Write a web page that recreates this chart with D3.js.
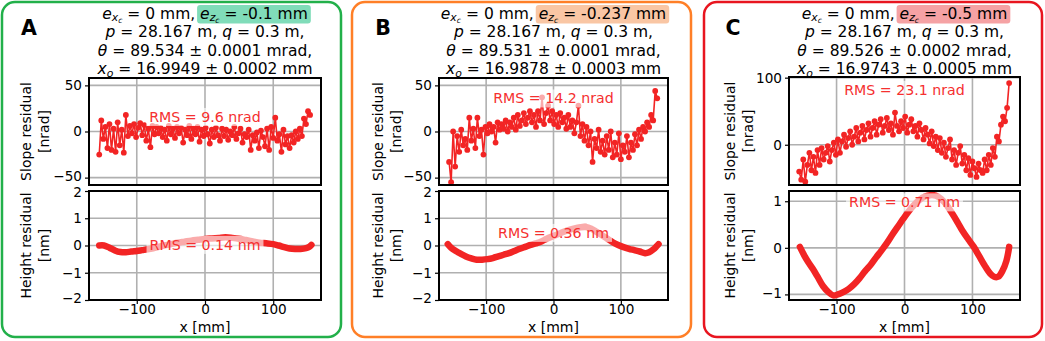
<!DOCTYPE html>
<html><head><meta charset="utf-8">
<script src="https://cdn.jsdelivr.net/npm/d3@7"></script>
<style>body{margin:0;background:#fff} svg{display:block;font-family:"DejaVu Sans",sans-serif}</style>
</head><body><svg id="c" width="1045" height="341"></svg>
<script>
// ---- data ----
const xGrid = [-155,-152,-149,-146,-143,-140,-137,-134,-131,-128,-125,-122,-119,-116,-113,-110,-107,-104,-101,-98,-95,-92,-89,-86,-83,-80,-77,-74,-71,-68,-65,-62,-59,-56,-53,-50,-47,-44,-41,-38,-35,-32,-29,-26,-23,-20,-17,-14,-11,-8,-5,-2,1,4,7,10,13,16,19,22,25,28,31,34,37,40,43,46,49,52,55,58,61,64,67,70,73,76,79,82,85,88,91,94,97,100,103,106,109,112,115,118,121,124,127,130,133,136,139,142,145,148,151,154];
const slopeA = [-25,12,-8,5,-18,8,-20,3,-22,10, -15,2,-23,18,-5,6,-2,8,-6,4, 9,-4,7,-10,3,-17,6,-3,5,-2, 4,-6,2,-10,6,-3,3,-7,5,-2, 4,-12,2,-4,6,-8,3,-3,5,-11, 2,-5,4,-3,-13,2,-6,4,-4,-10, 3,-5,2,-9,0,-4,5,-8,-2,3, -12,-3,-6,2,-20,-4,-10,-1,-18,1, -6,-16,3,-20,5,-7,15,-10,-3,-22, 2,-14,-5,-18,-4,-12,0,-8,3,-5, 14,8,22,18];
const slopeB = [-33,-55,0,-38,-5,-22,2,-15,-8,-20, 15,-10,3,-18,15,-5,2,-25,5,-2, 8,0,5,-12,10,2,8,3,12,0, 10,5,15,2,18,6,12,20,8,15, 22,10,18,5,22,12,37,8,20,28, 12,22,8,18,5,20,10,15,3,18, 5,12,-2,10,28,-5,8,-10,5,-15, 0,-33,-8,-18,2,-22,-10,-25,-5,-20, 0,-28,-12,-25,-2,-30,-15,-22,-5,-28, -12,-20,-3,-15,2,-8,5,0,10,5, 18,12,44,36];
const slopeC = [-40,-52,-22,-55,-30,-12,-38,-18,-42,-8, -30,-5,-22,-12,-2,-25,-8,3,-15,8, -12,5,15,-3,10,20,0,12,25,5, 18,28,8,22,32,12,25,35,15,30, 38,18,28,40,22,32,15,48,28,20, 35,25,42,18,30,38,20,28,12,32, 22,8,25,15,2,20,-2,12,-8,10, -12,3,-18,-5,8,-22,-8,-30,-12,-2, -28,-15,-38,-20,-45,-25,-35,-48,-28,-38, -42,-22,-38,-15,-30,-5,-18,12,5,30, 42,35,55,92];
const heightA = [[-155,0.0],[-148,0.0],[-140,-0.08],[-132,-0.18],[-124,-0.24],[-116,-0.25],[-108,-0.22],[-100,-0.2],[-92,-0.17],[-84,-0.14],[-76,-0.1],[-68,-0.05],[-60,0.0],[-50,0.05],[-40,0.1],[-30,0.14],[-20,0.18],[-10,0.21],[0,0.24],[10,0.26],[20,0.28],[30,0.3],[40,0.28],[50,0.25],[60,0.2],[70,0.15],[80,0.1],[90,0.08],[100,0.05],[108,0.0],[116,-0.06],[124,-0.11],[132,-0.13],[140,-0.13],[148,-0.1],[153,-0.05],[156,0.02]];
const heightB = [[-157,0.05],[-152,-0.08],[-145,-0.2],[-138,-0.3],[-130,-0.4],[-122,-0.47],[-114,-0.52],[-106,-0.52],[-98,-0.5],[-90,-0.46],[-82,-0.4],[-74,-0.34],[-66,-0.28],[-58,-0.2],[-50,-0.12],[-42,-0.05],[-34,0.02],[-26,0.08],[-18,0.15],[-10,0.25],[0,0.35],[10,0.45],[20,0.55],[30,0.62],[40,0.67],[48,0.68],[56,0.62],[64,0.5],[72,0.38],[80,0.25],[88,0.12],[96,0.02],[104,-0.06],[112,-0.12],[120,-0.17],[128,-0.22],[136,-0.28],[142,-0.25],[148,-0.15],[153,-0.03],[156,0.05]];
const heightC = [[-154,0.02],[-148,-0.15],[-142,-0.3],[-135,-0.45],[-128,-0.62],[-120,-0.82],[-112,-0.95],[-105,-1.02],[-98,-1.0],[-90,-0.95],[-82,-0.88],[-74,-0.78],[-66,-0.65],[-58,-0.5],[-50,-0.37],[-42,-0.21],[-34,-0.06],[-26,0.1],[-18,0.28],[-10,0.45],[-2,0.62],[6,0.78],[14,0.92],[22,1.03],[30,1.1],[38,1.13],[46,1.12],[54,1.05],[62,0.92],[70,0.74],[78,0.55],[86,0.35],[94,0.18],[102,0.02],[110,-0.18],[118,-0.38],[126,-0.55],[132,-0.62],[138,-0.62],[144,-0.5],[150,-0.28],[154,0.02]];
const panelLetters = ["A","B","C"];
const ezValues = ["-0.1","-0.237","-0.5"];
const thetaValues = ["89.534 ± 0.0001","89.531 ± 0.0001","89.526 ± 0.0002"];
const xoValues = ["16.9949 ± 0.0002","16.9878 ± 0.0003","16.9743 ± 0.0005"];
const rmsSlope = ["9.6","14.2","23.1"];
const rmsHeight = ["0.14","0.36","0.71"];
const xTicks = [-100,0,100];
const slopeTicks = [[-50,0,50],[-50,0,50],[0,100]];
const heightTicks = [[-2,-1,0,1,2],[-2,-1,0,1,2],[-1,0,1]];
const slopeSeries = [slopeA,slopeB,slopeC];
const heightSeries = [heightA,heightB,heightC];

// ---- layout / style ----
const layout = [
 {box:[2,341], px:[89,321], sTop:78, sDom:[-58,58], hDom:[-2,2], lab:[58,40], letterX:29, border:"#22b04a", hl:"#80dcb9", rmsS:[0,16], rmsH:[0,0.03]},
 {box:[352,691], px:[439,668], sTop:78, sDom:[-58,58], hDom:[-2,2], lab:[56,38], letterX:383, border:"#ff7f27", hl:"#f9c6a4", rmsS:[0,36], rmsH:[0,0.47]},
 {box:[704,1042], px:[789,1020], sTop:77, sDom:[-60,101], hDom:[-1.12,1.22], lab:[54,36], letterX:733, border:"#e8151f", hl:"#f5a2a4", rmsS:[0,82], rmsH:[0,0.98]}
];
const HFS = 15.5, FS = 14.2, TFS = 13.6, RED = "#f22424", TXT_RED = "#f53030";
const svg = d3.select("#c");
const fmt = d => String(d).replace("-", "\u2212");

function mathLine(g, cx, y, segs, hlIndex, hlColor){
  const t = g.append("text").attr("x",cx).attr("y",y).attr("text-anchor","middle")
    .style("font-size",HFS+"px").style("white-space","pre").attr("fill","#000");
  const off=[0,2.8,4.6], sz=[HFS,HFS*0.7,HFS*0.5];
  let cur=0, idx=0, startChar=null;
  segs.forEach((s,i)=>{
    const lvl=s.sub||0;
    if(i===hlIndex) startChar=idx;
    const ts=t.append("tspan").text(s.t).attr("dy",off[lvl]-cur).style("font-size",sz[lvl]+"px");
    if(s.it) ts.style("font-style","italic");
    cur=off[lvl]; idx+=s.t.length;
  });
  if(hlIndex!=null){
    const n=t.node();
    const x0=n.getStartPositionOfChar(startChar).x, x1=n.getEndPositionOfChar(idx-1).x;
    g.insert("rect","text").attr("x",x0-3).attr("y",y-13.5).attr("width",x1-x0+6).attr("height",18.5)
      .attr("rx",3).attr("fill",hlColor);
  }
  return t;
}

layout.forEach((L,i)=>{
  const g = svg.append("g");
  g.append("rect").attr("x",L.box[0]).attr("y",2).attr("width",L.box[1]-L.box[0]).attr("height",335)
    .attr("rx",13).attr("fill","none").attr("stroke",L.border).attr("stroke-width",2.5);
  g.append("text").attr("x",L.letterX).attr("y",35).attr("text-anchor","middle")
    .style("font-size","20.5px").style("font-weight","bold").text(panelLetters[i]);
  const cx=(L.px[0]+L.px[1])/2;
  const hdr=g.append("g");
  mathLine(hdr,cx,18.5,[{t:"e",it:1},{t:"x",it:1,sub:1},{t:"c",it:1,sub:2},{t:" = 0 mm, "},
     {t:"e",it:1},{t:"z",it:1,sub:1},{t:"c",it:1,sub:2},{t:" = "+ezValues[i]+" mm"}],4,L.hl);
  mathLine(hdr,cx,37.3,[{t:"p",it:1},{t:" = 28.167 m, "},{t:"q",it:1},{t:" = 0.3 m,"}]);
  mathLine(hdr,cx,56,[{t:"\u03b8",it:1},{t:" = "+thetaValues[i]+" mrad,"}]);
  mathLine(hdr,cx,74.3,[{t:"x",it:1},{t:"o",it:1,sub:1},{t:" = "+xoValues[i]+" mm"}]);

  const x = d3.scaleLinear().domain([-170,170]).range(L.px);
  const plots = [
    {top:L.sTop, bot:185, dom:L.sDom, ticks:slopeTicks[i], lab:["Slope residual","[nrad]"], kind:"s"},
    {top:191, bot:300, dom:L.hDom, ticks:heightTicks[i], lab:["Height residual","[nm]"], kind:"h"}
  ];
  plots.forEach(P=>{
    const y = d3.scaleLinear().domain(P.dom).range([P.bot,P.top]);
    const pg = g.append("g");
    pg.selectAll(".gx").data(xTicks).join("line").attr("x1",d=>x(d)).attr("x2",d=>x(d))
      .attr("y1",P.top).attr("y2",P.bot).attr("stroke","#b0b0b0").attr("stroke-width",1.6);
    pg.selectAll(".gy").data(P.ticks).join("line").attr("y1",d=>y(d)).attr("y2",d=>y(d))
      .attr("x1",L.px[0]).attr("x2",L.px[1]).attr("stroke","#b0b0b0").attr("stroke-width",1.6);
    const ya = pg.append("g").attr("transform",`translate(${L.px[0]},0)`)
      .call(d3.axisLeft(y).tickValues(P.ticks).tickSize(4).tickPadding(3).tickFormat(fmt));
    ya.select(".domain").remove();
    ya.selectAll("text").style("font-size",TFS+"px").style("font-family","DejaVu Sans").attr("fill","#000");
    ya.selectAll("line").attr("stroke","#000").attr("stroke-width",1.2);
    // keep the edge labels of the stacked axes from colliding
    ya.selectAll("text").filter(d=>y(d)>P.bot-10).attr("y",-1.5);
    ya.selectAll("text").filter(d=>y(d)<P.top+3 && P.kind==="h").attr("y",1.5);
    const my=(P.top+P.bot)/2;
    P.lab.forEach((s,k)=>{
      pg.append("text").attr("transform",`translate(${L.px[0]-L.lab[k]},${my}) rotate(-90)`)
        .attr("text-anchor","middle").style("font-size","14px").text(s);
    });
    if(P.kind==="s"){
      const pts = xGrid.map((xv,j)=>[xv,slopeSeries[i][j]]);
      pg.append("path").datum(pts).attr("d",d3.line().x(d=>x(d[0])).y(d=>y(d[1])))
        .attr("fill","none").attr("stroke",RED).attr("stroke-width",1.6);
      pg.selectAll(".pt").data(pts).join("circle").attr("cx",d=>x(d[0])).attr("cy",d=>y(d[1]))
        .attr("r",2.9).attr("fill",RED);
    } else {
      pg.append("path").datum(heightSeries[i]).attr("d",d3.line().curve(d3.curveCatmullRom).x(d=>x(d[0])).y(d=>y(d[1])))
        .attr("fill","none").attr("stroke",RED).attr("stroke-width",6.5).attr("stroke-linecap","round").attr("stroke-linejoin","round");
    }
    const pos = P.kind==="s"?L.rmsS:L.rmsH;
    const txt = P.kind==="s" ? `RMS = ${rmsSlope[i]} nrad` : `RMS = ${rmsHeight[i]} nm`;
    const lt = pg.append("text").attr("x",x(pos[0])).attr("y",y(pos[1])+5.2).attr("text-anchor","middle")
      .style("font-size",FS+"px").attr("fill",TXT_RED).text(txt);
    const bb = lt.node().getBBox();
    pg.insert("rect",()=>lt.node()).attr("x",bb.x-3).attr("y",bb.y-1).attr("width",bb.width+6).attr("height",bb.height+2)
      .attr("fill","#fff").attr("fill-opacity",0.62);
    pg.append("rect").attr("x",L.px[0]).attr("y",P.top).attr("width",L.px[1]-L.px[0]).attr("height",P.bot-P.top)
      .attr("fill","none").attr("stroke","#000").attr("stroke-width",2);
    if(P.kind==="h"){
      const xa = pg.append("g").attr("transform",`translate(0,${P.bot})`)
        .call(d3.axisBottom(x).tickValues(xTicks).tickSize(4).tickPadding(0.5).tickFormat(fmt));
      xa.select(".domain").remove();
      xa.selectAll("text").style("font-size",TFS+"px").style("font-family","DejaVu Sans").attr("fill","#000");
      xa.selectAll("line").attr("stroke","#000").attr("stroke-width",1.2);
      pg.append("text").attr("x",cx).attr("y",331.5).attr("text-anchor","middle").style("font-size","14px").text("x [mm]");
    }
  });
});
</script></body></html>
